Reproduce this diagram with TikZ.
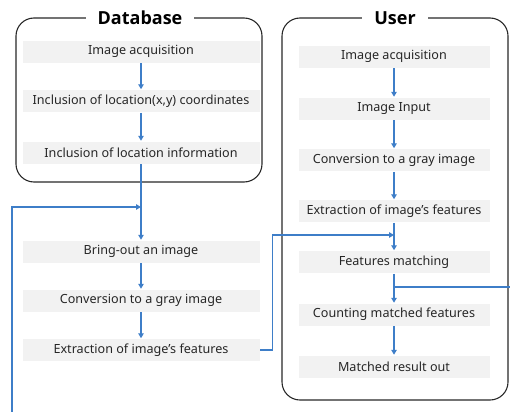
\documentclass[tikz,border=0pt]{standalone}
\usepackage{fontspec}
\setmainfont{Noto Sans}
\newfontfamily\titlefont{Open Sans}
\usetikzlibrary{arrows.meta}
\definecolor{flow}{RGB}{62,126,200}
\definecolor{boxfill}{RGB}{242,242,242}
\definecolor{frame}{RGB}{40,40,40}
\begin{document}
\begin{tikzpicture}[x=1pt,y=-1pt,
  stepbox/.style={fill=boxfill,draw=white,line width=0.5pt,minimum height=23pt,inner sep=0pt,font=\fontsize{12.6}{14}\selectfont,text=black!85},
  dbbox/.style={stepbox,minimum width=238pt},
  ubox/.style={stepbox,minimum width=192pt},
  group/.style={draw=frame,line width=1.1pt,rounded corners=18pt},
  title/.style={fill=white,inner xsep=12pt,inner ysep=2pt,font=\titlefont\bfseries\fontsize{18}{22}\selectfont},
  conn/.style={draw=flow,line width=1.4pt},
  arr/.style={conn,-{Triangle[length=5pt,width=5.5pt]}}]
\useasboundingbox (0,0) rectangle (511,412);
% group frames
\draw[group] (16,18) rectangle (262,182);
\draw[group] (282,18) rectangle (508,400);
\node[title] (tdb) at (140,18) {Database};
\node[title] (tu) at (395,18) {User};
% database steps
\node[dbbox] (d1) at (141,51.5) {Image acquisition};
\node[dbbox] (d2) at (141,101) {Inclusion of location(x,y) coordinates};
\node[dbbox] (d3) at (141,152.5) {Inclusion of location information};
\node[dbbox] (d4) at (141,251.5) {Bring-out an image};
\node[dbbox] (d5) at (141,300.5) {Conversion to a gray image};
\node[dbbox] (d6) at (141,350) {Extraction of image’s features};
% user steps
\node[ubox] (u1) at (394,56.5) {Image acquisition};
\node[ubox] (u2) at (394,108.5) {Image Input};
\node[ubox] (u3) at (394,160) {Conversion to a gray image};
\node[ubox] (u4) at (394,211) {Extraction of image’s features};
\node[ubox] (u5) at (394,262) {Features matching};
\node[ubox] (u6) at (394,314.5) {Counting matched features};
\node[ubox] (u7) at (394,366.5) {Matched result out};
% coordinates
\coordinate (fbstart) at (12,412);
\coordinate (fbjoin) at (141,207);
\coordinate (xjoin) at (394,235);
\coordinate (mjoin) at (394,287);
\coordinate (mout) at (510,287);
% database connectors
\draw[arr] (d1) -- (d2);
\draw[arr] (d2) -- (d3);
\draw[arr] (d3) -- (d4);
\draw[arr] (d4) -- (d5);
\draw[arr] (d5) -- (d6);
\draw[arr] (fbstart) |- (fbjoin);
\draw[arr] (d6.east) -- ++(12,0) |- (xjoin);
% user connectors
\draw[arr] (u1) -- (u2);
\draw[arr] (u2) -- (u3);
\draw[arr] (u3) -- (u4);
\draw[arr] (u4) -- (u5);
\draw[arr] (u5) -- (u6);
\draw[arr] (u6) -- (u7);
\draw[conn] (mjoin) -- (mout);
\end{tikzpicture}
\end{document}
